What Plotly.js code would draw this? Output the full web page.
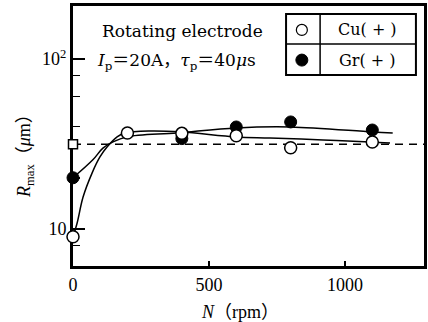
<!DOCTYPE html>
<html><head><meta charset="utf-8">
<script src="https://cdn.plot.ly/plotly-3.0.1.min.js"></script>
<style>html,body{margin:0;padding:0;background:#fff}#c{width:428px;height:322px}</style>
</head><body><div id="c"></div>
<script>
// measured points
var cuN = [0, 200, 400, 600, 800, 1100];
var cuR = [9.0, 36.7, 36.5, 35.3, 30.0, 32.5];
var grN = [0, 400, 600, 800, 1100];
var grR = [20.0, 34.0, 39.8, 42.6, 38.2];
// reference (stationary electrode) value
var refN = [0];
var refR = [31.5];
// fitted curves
var cuFitN = [0, 15, 37, 70, 99, 125, 162, 191, 283, 400, 600, 724, 919, 1091, 1165];
var cuFitR = [9.0, 10.8, 15.4, 21.3, 26.5, 30.3, 34.8, 36.7, 37.7, 37.2, 34.8, 34.3, 33.4, 32.5, 32.0];
var grFitN = [0, 73, 110, 147, 198, 382, 600, 800, 1100, 1175];
var grFitR = [20.0, 25.5, 29.9, 32.5, 34.8, 36.7, 39.3, 39.8, 37.2, 36.7];
var xTicks = [0, 500, 1000];
var xTickText = ['0', '500', '1000'];
var yMajor = [10, 100];
var yMajorText = ['10', '10<sup>2</sup>'];
var yMinor = [8, 20, 40, 60, 80];
var legendNames = ['Cu( + )', 'Gr( + )'];

var serif = 'Liberation Serif, Times New Roman, Noto Sans CJK JP, serif';
var serif2 = 'DejaVu Serif, Noto Sans CJK JP, serif';

var traces = [
  {x: cuFitN, y: cuFitR, mode: 'lines', line: {color: '#000', width: 1.5, shape: 'spline', smoothing: 1}, cliponaxis: false, hoverinfo: 'skip'},
  {x: grFitN, y: grFitR, mode: 'lines', line: {color: '#000', width: 1.5, shape: 'spline', smoothing: 1}, cliponaxis: false, hoverinfo: 'skip'},
  {x: grN, y: grR, mode: 'markers', marker: {symbol: 'circle', size: 12, color: '#000', line: {color: '#000', width: 1}}, cliponaxis: false},
  {x: cuN, y: cuR, mode: 'markers', marker: {symbol: 'circle', size: 12, color: '#fff', line: {color: '#000', width: 1.5}}, cliponaxis: false},
  {x: refN, y: refR, mode: 'markers', marker: {symbol: 'square', size: 9, color: '#fff', line: {color: '#000', width: 1.5}}, cliponaxis: false}
];

var lx0 = 0.607, lx1 = 0.977, lxm = 0.704, ly0 = 0.735, ly1 = 0.969, lym = 0.854;
var layout = {
  width: 428, height: 322,
  margin: {l: 73, r: 4, t: 6, b: 56},
  paper_bgcolor: '#fff', plot_bgcolor: '#fff',
  showlegend: false,
  xaxis: {
    range: [0, 1290], showgrid: false, zeroline: false,
    showline: true, linewidth: 3, linecolor: '#000', mirror: true,
    ticks: 'inside', ticklen: 5, tickwidth: 1.5, tickcolor: '#000',
    tickmode: 'array', tickvals: xTicks, ticktext: xTickText,
    tickfont: {family: serif, size: 18, color: '#000'},
    layer: 'below traces'
  },
  yaxis: {
    type: 'log', range: [Math.log10(6.05), Math.log10(205)],
    showgrid: false, zeroline: false,
    showline: true, linewidth: 3, linecolor: '#000', mirror: true,
    ticks: 'inside', ticklen: 12, tickwidth: 1.5, tickcolor: '#000',
    tickmode: 'array', tickvals: yMajor, ticktext: yMajorText,
    tickfont: {family: serif, size: 18, color: '#000'},
    minor: {tickmode: 'array', tickvals: yMinor, ticks: 'inside', ticklen: 7, tickwidth: 1.5, tickcolor: '#000', showgrid: false},
    layer: 'below traces'
  },
  shapes: [
    {type: 'line', xref: 'paper', yref: 'y', x0: 0, x1: 1, y0: refR[0], y1: refR[0], line: {color: '#000', width: 1.5, dash: '8px,6px'}, layer: 'below'},
    {type: 'rect', xref: 'paper', yref: 'paper', x0: lx0, x1: lx1, y0: ly0, y1: ly1, line: {color: '#000', width: 2}, fillcolor: '#fff', layer: 'above'},
    {type: 'line', xref: 'paper', yref: 'paper', x0: lxm, x1: lxm, y0: ly0, y1: ly1, line: {color: '#000', width: 1.5}},
    {type: 'line', xref: 'paper', yref: 'paper', x0: lx0, x1: lx1, y0: lym, y1: lym, line: {color: '#000', width: 1.5}},
    {type: 'circle', xref: 'paper', yref: 'paper', xsizemode: 'pixel', ysizemode: 'pixel', xanchor: 0.652, yanchor: 0.908, x0: -5.5, x1: 5.5, y0: -5.5, y1: 5.5, line: {color: '#000', width: 1.2}, fillcolor: '#fff'},
    {type: 'circle', xref: 'paper', yref: 'paper', xsizemode: 'pixel', ysizemode: 'pixel', xanchor: 0.652, yanchor: 0.792, x0: -6, x1: 6, y0: -6, y1: 6, line: {color: '#000', width: 1}, fillcolor: '#000'}
  ],
  annotations: [
    {xref: 'paper', yref: 'paper', x: 0.838, y: 0.908, text: legendNames[0], showarrow: false, xanchor: 'center', yanchor: 'middle', font: {family: serif2, size: 16, color: '#000'}},
    {xref: 'paper', yref: 'paper', x: 0.838, y: 0.792, text: legendNames[1], showarrow: false, xanchor: 'center', yanchor: 'middle', font: {family: serif2, size: 16, color: '#000'}},
    {xref: 'paper', yref: 'paper', x: 0.077, y: 0.904, text: 'Rotating electrode', showarrow: false, xanchor: 'left', yanchor: 'middle', font: {family: serif2, size: 17, color: '#000'}},
    {xref: 'paper', yref: 'paper', x: 0.063, y: 0.785, text: '<i>I</i><sub>p</sub>＝20A，<i>τ</i><sub>p</sub>＝40<i>μ</i>s', showarrow: false, xanchor: 'left', yanchor: 'middle', font: {family: serif2, size: 17, color: '#000'}},
    {xref: 'paper', yref: 'paper', x: 0.476, y: -0.177, text: '<i>N</i>（rpm）', showarrow: false, xanchor: 'center', yanchor: 'middle', font: {family: serif, size: 18, color: '#000'}},
    {xref: 'paper', yref: 'paper', x: -0.137, y: 0.442, text: '<i>R</i><sub>max</sub>（<i>μ</i>m）', textangle: -90, showarrow: false, xanchor: 'center', yanchor: 'middle', font: {family: serif, size: 18, color: '#000'}}
  ]
};
Plotly.newPlot('c', traces, layout, {staticPlot: true, displayModeBar: false});
</script>
</body></html>
